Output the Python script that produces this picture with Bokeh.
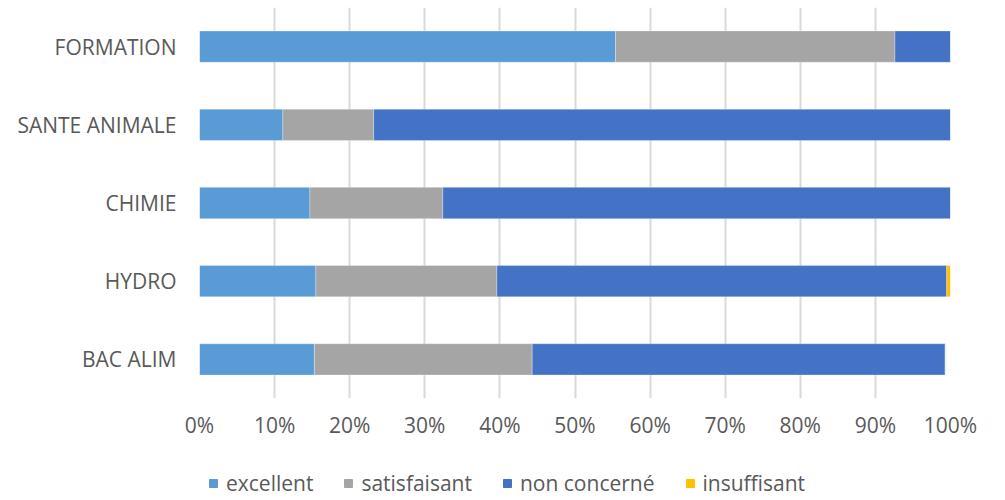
from bokeh.plotting import figure
from bokeh.layouts import column
from bokeh.models import ColumnDataSource, FactorRange, Legend, LegendItem, Range1d, FixedTicker, CustomJSTickFormatter
from bokeh.embed import file_html
from bokeh.resources import INLINE

categories = ["BAC ALIM", "HYDRO", "CHIMIE", "SANTE ANIMALE", "FORMATION"]
series = ["excellent", "satisfaisant", "non concerné", "insuffisant"]
excellent = [15.3, 15.5, 14.7, 11.1, 55.4]
satisfaisant = [29.0, 24.1, 17.7, 12.1, 37.2]
non_concerne = [55.0, 59.9, 67.6, 76.8, 7.4]
insuffisant = [0.0, 0.5, 0.0, 0.0, 0.0]
colors = ["#5B9BD5", "#A5A5A5", "#4472C4", "#FFC000"]
ticks = [0, 10, 20, 30, 40, 50, 60, 70, 80, 90, 100]

data = {"cat": categories, "excellent": excellent, "satisfaisant": satisfaisant,
        "non concerné": non_concerne, "insuffisant": insuffisant}
src = ColumnDataSource(data)

FONT = "Open Sans"
TXT = "#595959"

p = figure(y_range=FactorRange(*categories), x_range=Range1d(0, 100),
           width=990, height=455, output_backend="svg", toolbar_location=None,
           min_border_left=199, min_border_right=40, min_border_top=7, min_border_bottom=57)
p.outline_line_color = None

renderers = p.hbar_stack(series, y="cat", height=0.4, color=colors, source=src,
                         line_color="white", line_width=0.5, line_alpha=0.6)

p.xaxis.ticker = FixedTicker(ticks=ticks)
p.xaxis.formatter = CustomJSTickFormatter(code="return tick.toFixed(0) + '%';")
p.xaxis.axis_line_color = None
p.xaxis.major_tick_line_color = None
p.xaxis.minor_tick_line_color = None
p.xaxis.major_tick_out = 0
p.xaxis.major_label_standoff = 12
p.xaxis.major_label_text_font = FONT
p.xaxis.major_label_text_font_size = "21px"
p.xaxis.major_label_text_color = TXT

p.yaxis.axis_line_color = None
p.yaxis.major_tick_line_color = None
p.yaxis.minor_tick_line_color = None
p.yaxis.major_label_standoff = 17
p.yaxis.major_label_text_font = FONT
p.yaxis.major_label_text_font_size = "21px"
p.yaxis.major_label_text_color = TXT

p.ygrid.grid_line_color = None
p.xgrid.grid_line_color = "#D9D9D9"
p.xgrid.grid_line_width = 2

# legend strip below the chart (proxy glyphs sit outside the visible range)
p2 = figure(width=990, height=45, x_range=Range1d(0, 990), y_range=Range1d(0, 45),
            x_axis_type=None, y_axis_type=None, output_backend="svg", toolbar_location=None,
            min_border=0, min_border_left=0, min_border_right=0, min_border_top=0, min_border_bottom=0)
p2.outline_line_color = None
p2.grid.visible = False
proxy = ColumnDataSource({"y": [-1000.0], "l": [0.0], "r": [1.0]})
dummies = [p2.hbar(y="y", left="l", right="r", height=1, color=c, source=proxy) for c in colors]
items = [LegendItem(label=s, renderers=[r]) for s, r in zip(series, dummies)]
legend = Legend(items=items, orientation="horizontal", location=(9, 3),
                glyph_width=10, glyph_height=10, label_standoff=8, spacing=30,
                padding=0, margin=0, border_line_color=None, background_fill_alpha=0,
                label_text_font=FONT, label_text_font_size="21px", label_text_color=TXT,
                label_height=20)
p2.add_layout(legend, "center")

layout = column(p, p2, spacing=0)
open("out.html", "w").write(file_html(layout, INLINE))
